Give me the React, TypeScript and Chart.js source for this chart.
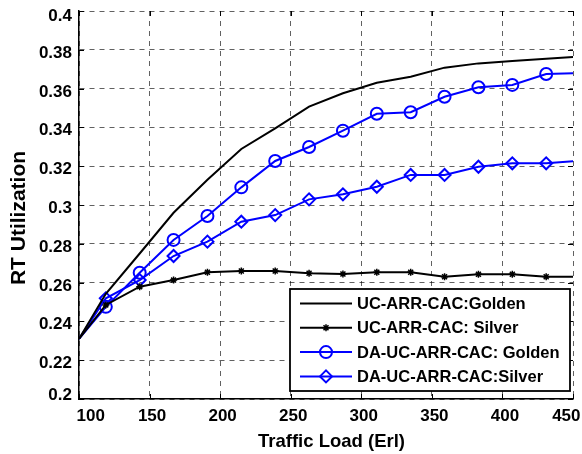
import React, { useEffect, useRef } from 'react';
import { Chart, registerables } from 'chart.js';

Chart.register(...registerables);

const xLoads = [100, 119, 143, 167, 191, 215, 239, 263, 287, 311, 335, 359, 383, 407, 431, 455];
const ucGolden = [0.231, 0.2542, 0.275, 0.296, 0.313, 0.3289, 0.3395, 0.3507, 0.3576, 0.363, 0.3661, 0.3708, 0.373, 0.3742, 0.3754, 0.3765];
const ucSilver = [0.231, 0.2485, 0.2579, 0.2613, 0.2653, 0.266, 0.266, 0.2648, 0.2644, 0.2653, 0.2653, 0.263, 0.2643, 0.2643, 0.263, 0.263];
const daGolden = [0.231, 0.2475, 0.2651, 0.282, 0.2943, 0.3091, 0.3227, 0.3299, 0.3383, 0.347, 0.3478, 0.3558, 0.3607, 0.3619, 0.3675, 0.368];
const daSilver = [0.231, 0.2519, 0.2613, 0.2737, 0.2811, 0.2914, 0.2948, 0.3029, 0.3055, 0.3094, 0.3155, 0.3155, 0.3197, 0.3215, 0.3215, 0.3229];

const seriesLabels = ['UC-ARR-CAC:Golden', 'UC-ARR-CAC: Silver', 'DA-UC-ARR-CAC: Golden', 'DA-UC-ARR-CAC:Silver'];
const xTitle = 'Traffic Load (Erl)';
const yTitle = 'RT Utilization';
const xMin = 100, xMax = 450, xStep = 50;
const yMin = 0.2, yMax = 0.4, yStep = 0.02;

const FONT = "'Liberation Sans', Arial, Helvetica, sans-serif";
const BLUE = '#0000ff';

function drawMarker(ctx: CanvasRenderingContext2D, style: string, x: number, y: number, r: number) {
  ctx.beginPath();
  if (style === 'circle') {
    ctx.arc(x, y, r, 0, Math.PI * 2);
  } else if (style === 'rectRot') {
    ctx.moveTo(x, y - r);
    ctx.lineTo(x + r, y);
    ctx.lineTo(x, y + r);
    ctx.lineTo(x - r, y);
    ctx.closePath();
  } else if (style === 'star') {
    ctx.moveTo(x - r, y); ctx.lineTo(x + r, y);
    ctx.moveTo(x, y - r); ctx.lineTo(x, y + r);
    const d = r * Math.SQRT1_2;
    ctx.moveTo(x - d, y - d); ctx.lineTo(x + d, y + d);
    ctx.moveTo(x - d, y + d); ctx.lineTo(x + d, y - d);
  }
  ctx.stroke();
}

const fmtY = (v: number) => String(+Number(v).toFixed(2));

const decor = {
  id: 'decor',
  afterDraw(chart: any) {
    const ctx: CanvasRenderingContext2D = chart.ctx;
    const a = chart.chartArea;
    const xs = chart.scales.x;
    const ys = chart.scales.y;
    ctx.save();
    // inward ticks
    ctx.strokeStyle = '#000';
    ctx.lineWidth = 1;
    ctx.setLineDash([]);
    ctx.beginPath();
    xs.ticks.forEach((t: any) => {
      const px = Math.round(xs.getPixelForValue(t.value)) + 0.5;
      ctx.moveTo(px, a.bottom); ctx.lineTo(px, a.bottom - 5);
      ctx.moveTo(px, a.top); ctx.lineTo(px, a.top + 5);
    });
    ys.ticks.forEach((t: any) => {
      const py = Math.round(ys.getPixelForValue(t.value)) + 0.5;
      ctx.moveTo(a.left, py); ctx.lineTo(a.left + 5, py);
      ctx.moveTo(a.right, py); ctx.lineTo(a.right - 5, py);
    });
    ctx.stroke();

    // tick labels
    ctx.fillStyle = '#000';
    ctx.font = `bold 17px ${FONT}`;
    ctx.textBaseline = 'alphabetic';
    const nx = xs.ticks.length;
    xs.ticks.forEach((t: any, i: number) => {
      const px = xs.getPixelForValue(t.value);
      const label = String(t.value);
      if (i === 0) { ctx.textAlign = 'left'; ctx.fillText(label, px - 2.5, 421); }
      else if (i === nx - 1) { ctx.textAlign = 'right'; ctx.fillText(label, px + 7.5, 421); }
      else { ctx.textAlign = 'center'; ctx.fillText(label, px + 2.5, 421); }
    });
    ctx.textAlign = 'right';
    const ny = ys.ticks.length;
    ys.ticks.forEach((t: any, i: number) => {
      const py = ys.getPixelForValue(t.value);
      let off = 8;
      if (i === 0) off = 1;
      if (i === ny - 1) off = 10;
      ctx.fillText(fmtY(t.value), 72, py + off);
    });

    // legend
    const lx = 290, ly = 289, lw = 280, lh = 102;
    ctx.fillStyle = '#fff';
    ctx.fillRect(lx, ly, lw, lh);
    ctx.strokeStyle = '#000';
    ctx.lineWidth = 1.8;
    ctx.strokeRect(lx, ly, lw, lh);
    chart.data.datasets.forEach((ds: any, i: number) => {
      const cy = 303.5 + i * 24.3;
      ctx.strokeStyle = ds.borderColor;
      ctx.lineWidth = 2;
      ctx.beginPath();
      ctx.moveTo(300, cy); ctx.lineTo(352, cy);
      ctx.stroke();
      if (ds.markerSize > 0) {
        ctx.lineWidth = ds.pointBorderWidth;
        drawMarker(ctx, ds.pointStyle, 326, cy, ds.markerSize);
      }
      ctx.fillStyle = '#000';
      ctx.font = `bold 16.5px ${FONT}`;
      ctx.textAlign = 'left';
      ctx.textBaseline = 'middle';
      ctx.fillText(ds.label, 357, cy + 1);
    });

    // axis titles
    ctx.fillStyle = '#000';
    ctx.font = `bold 18.5px ${FONT}`;
    ctx.textAlign = 'center';
    ctx.textBaseline = 'alphabetic';
    ctx.fillText(xTitle, 331.5, 446.5);
    ctx.translate(25, 218);
    ctx.rotate(-Math.PI / 2);
    ctx.font = `bold 21px ${FONT}`;
    ctx.fillText(yTitle, 0, 0);
    ctx.restore();
  },
};

export default function App() {
  const ref = useRef<HTMLCanvasElement>(null);
  useEffect(() => {
    document.body.style.margin = '0';
    const mk = (arr: number[]) => arr.map((v, i) => ({ x: xLoads[i], y: v }));
    const radius = (r: number) => (c: any) => (c.dataIndex === 0 ? 0 : r);
    const chart = new Chart(ref.current!, {
      type: 'line',
      data: {
        datasets: [
          { label: seriesLabels[0], data: mk(ucGolden), borderColor: '#000', borderWidth: 2, markerSize: 0, pointRadius: 0, pointStyle: 'circle', pointBorderWidth: 0, tension: 0 },
          { label: seriesLabels[1], data: mk(ucSilver), borderColor: '#000', borderWidth: 2, markerSize: 3.5, pointRadius: radius(3.5), pointStyle: 'star', pointBorderWidth: 1.5, pointBorderColor: '#000', pointBackgroundColor: 'transparent', tension: 0 },
          { label: seriesLabels[2], data: mk(daGolden), borderColor: BLUE, borderWidth: 2, markerSize: 6, pointRadius: radius(6), pointStyle: 'circle', pointBorderWidth: 2, pointBorderColor: BLUE, pointBackgroundColor: 'transparent', tension: 0 },
          { label: seriesLabels[3], data: mk(daSilver), borderColor: BLUE, borderWidth: 2, markerSize: 6, pointRadius: radius(6), pointStyle: 'rectRot', pointBorderWidth: 2, pointBorderColor: BLUE, pointBackgroundColor: 'transparent', tension: 0 },
        ] as any,
      },
      options: {
        animation: false,
        responsive: false,
        devicePixelRatio: 1,
        layout: { padding: { top: 11, right: 9, left: 0, bottom: 0 } },
        plugins: { legend: { display: false }, tooltip: { enabled: false } },
        events: [],
        scales: {
          x: {
            type: 'linear',
            min: xMin,
            max: xMax,
            afterFit: (s: any) => { s.height = 55; s.paddingLeft = 0; s.paddingRight = 0; },
            ticks: { stepSize: xStep, autoSkip: false, maxRotation: 0, display: false },
            grid: { color: 'rgba(0,0,0,0.62)', lineWidth: 1, drawTicks: false },
            border: { display: true, color: '#000', width: 1.5, dash: [5, 5] },
          },
          y: {
            type: 'linear',
            min: yMin,
            max: yMax,
            afterFit: (s: any) => { s.width = 79; s.paddingTop = 0; s.paddingBottom = 0; },
            ticks: { stepSize: yStep, autoSkip: false, display: false },
            grid: { color: 'rgba(0,0,0,0.62)', lineWidth: 1, drawTicks: false },
            border: { display: true, color: '#000', width: 1.5, dash: [5, 5] },
          },
        },
      } as any,
      plugins: [decor],
    });
    return () => chart.destroy();
  }, []);
  return (
    <div style={{ width: 582, height: 454, background: '#fff' }}>
      <canvas ref={ref} width={582} height={454} style={{ display: 'block', width: 582, height: 454 }} />
    </div>
  );
}
